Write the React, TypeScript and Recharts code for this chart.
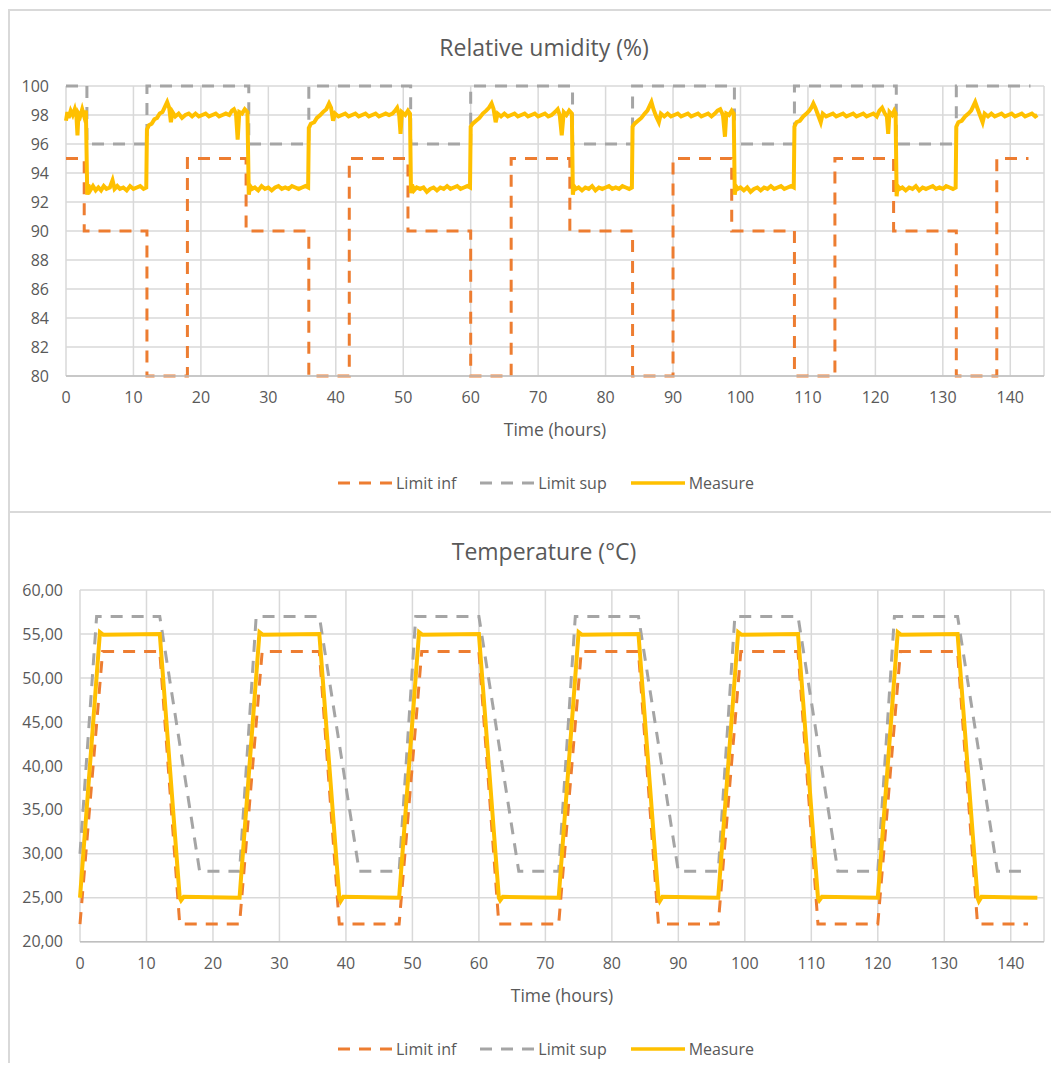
import { LineChart, Line, XAxis, YAxis, CartesianGrid } from "recharts";

const xTicks = [0, 10, 20, 30, 40, 50, 60, 70, 80, 90, 100, 110, 120, 130, 140];
const humTicks = [80, 82, 84, 86, 88, 90, 92, 94, 96, 98, 100];
const tempTicks = [20, 25, 30, 35, 40, 45, 50, 55, 60];

const seriesNames = ["Limit inf", "Limit sup", "Measure"];

// relative humidity, [time, value]
const humLimitInf = [
    [0, 95], [2.7, 95], [2.7, 90], [12, 90], [12, 80], [18, 80], [18, 95], [26.7, 95], [26.7, 90],
    [36, 90], [36, 80], [42, 80], [42, 95], [50.7, 95], [50.7, 90], [60, 90], [60, 80], [66, 80],
    [66, 95], [74.7, 95], [74.7, 90], [84, 90], [84, 80], [90, 80], [90, 95], [98.7, 95], [98.7, 90],
    [108, 90], [108, 80], [114, 80], [114, 95], [122.7, 95], [122.7, 90], [132, 90], [132, 80],
    [138, 80], [138, 95], [142.7, 95],
];

const humLimitSup = [
    [0, 100], [3.1, 100], [3.1, 96], [12, 96], [12, 100], [27.1, 100], [27.1, 96], [36, 96], [36, 100],
    [51.1, 100], [51.1, 96], [60, 96], [60, 100], [75.1, 100], [75.1, 96], [84, 96], [84, 100],
    [99.1, 100], [99.1, 96], [108, 96], [108, 100], [123.1, 100], [123.1, 96], [132, 96], [132, 100],
    [143, 100],
];

const humMeasure = [
    [0, 97.6], [0.2, 98.2], [0.4, 97.8], [0.7, 98.3], [1.0, 98.0], [1.3, 98.4], [1.55, 97.9], [1.7, 96.6],
    [1.85, 98.1], [2.1, 97.9], [2.4, 98.4], [2.7, 97.9], [2.95, 98.3],
    [3.15, 92.5], [3.3, 93.2], [3.6, 92.8], [4.0, 93.1], [4.4, 92.8], [4.8, 93.0], [5.2, 92.8], [5.6, 93.1],
    [6.0, 92.9], [6.5, 93.0], [6.9, 93.5], [7.2, 92.9], [7.6, 93.1], [8.0, 92.9], [8.5, 93.0], [9.0, 92.8],
    [9.5, 93.1], [10.0, 92.9], [10.5, 93.0], [11.0, 93.1], [11.5, 92.9], [11.9, 93.0],
    [12.0, 97.0], [12.3, 97.3], [12.7, 97.4], [13.1, 97.7], [13.5, 97.8], [13.9, 98.1], [14.3, 98.2],
    [14.7, 98.6], [15.0, 98.9], [15.3, 98.5], [15.55, 97.5], [15.8, 98.2], [16.2, 97.9], [16.7, 98.1],
    [17.2, 97.8], [17.7, 98.0], [18.2, 98.1], [18.7, 97.9], [19.2, 98.1], [19.7, 97.9], [20.2, 98.0],
    [20.7, 98.1], [21.2, 97.9], [21.7, 98.0], [22.2, 98.1], [22.7, 97.9], [23.2, 98.0], [23.7, 98.1],
    [24.2, 98.0], [24.6, 98.3], [24.9, 98.4], [25.2, 98.1], [25.45, 96.3], [25.7, 98.2], [26.1, 98.1],
    [26.5, 98.4], [26.9, 98.2],
    [27.1, 92.5], [27.3, 93.1], [27.6, 92.9], [28.0, 93.0], [28.5, 92.8], [29, 93.1], [29.5, 92.9], [30, 93.0],
    [30.5, 92.8], [31, 93.0], [31.5, 93.1], [32, 92.9], [32.5, 93.0], [33, 92.9], [33.5, 93.1], [34, 93.0],
    [34.5, 92.9], [35, 93.0], [35.5, 93.1], [35.9, 93.0],
    [36.0, 97.1], [36.3, 97.4], [36.8, 97.5], [37.2, 97.8], [37.7, 98.0], [38.1, 98.2], [38.6, 98.4],
    [39.0, 98.8], [39.3, 98.5], [39.6, 97.6], [39.9, 98.1], [40.4, 97.9], [40.9, 98.0], [41.4, 98.1],
    [41.9, 97.9], [42.4, 98.0], [42.9, 98.1], [43.4, 97.9], [43.9, 98.0], [44.4, 98.1], [44.9, 97.9],
    [45.4, 98.0], [45.9, 98.1], [46.4, 97.9], [46.9, 98.0], [47.4, 98.1], [47.9, 98.0], [48.4, 98.1],
    [48.8, 98.3], [49.1, 98.5], [49.4, 98.0], [49.6, 96.7], [49.8, 98.2], [50.3, 98.0], [50.7, 98.3],
    [51.0, 98.1],
    [51.15, 92.6], [51.3, 93.2], [51.6, 92.8], [52, 93.0], [52.5, 92.9], [53, 93.0], [53.5, 92.7], [54, 92.9],
    [54.5, 93.0], [55, 92.8], [55.5, 93.0], [56, 92.9], [56.5, 93.1], [57, 92.9], [57.5, 93.0], [58, 93.1],
    [58.5, 92.9], [59, 93.0], [59.5, 93.1], [59.9, 93.0],
    [60.0, 97.2], [60.3, 97.4], [60.8, 97.6], [61.3, 97.8], [61.8, 98.1], [62.3, 98.3], [62.7, 98.5],
    [63.1, 98.8], [63.4, 98.4], [63.7, 97.5], [64.0, 98.1], [64.5, 97.9], [65, 98.1], [65.5, 97.9],
    [66, 98.0], [66.5, 98.1], [67, 97.9], [67.5, 98.0], [68, 98.1], [68.5, 97.9], [69, 98.0], [69.5, 98.1],
    [70, 97.9], [70.5, 98.0], [71, 98.1], [71.5, 97.9], [72, 98.0], [72.5, 98.2], [72.9, 98.4], [73.2, 98.0],
    [73.5, 96.6], [73.8, 98.2], [74.2, 98.0], [74.6, 98.3], [75.0, 98.1],
    [75.15, 92.5], [75.3, 93.1], [75.6, 92.9], [76, 93.0], [76.5, 92.8], [77, 93.0], [77.5, 92.9], [78, 93.1],
    [78.5, 92.8], [79, 93.0], [79.5, 92.9], [80, 93.0], [80.5, 93.1], [81, 92.9], [81.5, 93.0], [82, 92.9],
    [82.5, 93.1], [83, 93.0], [83.5, 92.9], [83.9, 93.0],
    [84.0, 97.2], [84.3, 97.4], [84.8, 97.6], [85.3, 97.8], [85.8, 98.1], [86.2, 98.3], [86.5, 98.6],
    [86.8, 98.9], [87.1, 98.4], [87.5, 97.9], [87.9, 97.5], [88.2, 98.1], [88.7, 97.9], [89.2, 98.1],
    [89.7, 97.9], [90.2, 98.0], [90.7, 98.1], [91.2, 97.9], [91.7, 98.0], [92.2, 98.1], [92.7, 97.9],
    [93.2, 98.0], [93.7, 98.1], [94.2, 97.9], [94.7, 98.0], [95.2, 98.1], [95.7, 97.9], [96.2, 98.1],
    [96.6, 98.3], [97.0, 98.4], [97.4, 98.0], [97.7, 96.5], [97.9, 98.1], [98.3, 98.0], [98.7, 98.3],
    [99.0, 98.1],
    [99.15, 92.5], [99.3, 93.1], [99.6, 92.9], [100, 93.0], [100.5, 92.8], [101, 93.0], [101.5, 92.7],
    [102, 92.9], [102.5, 93.0], [103, 92.8], [103.5, 93.0], [104, 92.9], [104.5, 93.1], [105, 92.9],
    [105.5, 93.0], [106, 93.1], [106.5, 92.9], [107, 93.0], [107.5, 93.1], [107.9, 93.0],
    [108.0, 97.2], [108.3, 97.5], [108.8, 97.6], [109.3, 97.9], [109.8, 98.1], [110.2, 98.3], [110.5, 98.5],
    [110.8, 98.8], [111.1, 98.5], [111.5, 98.0], [111.9, 97.5], [112.2, 98.1], [112.7, 97.9], [113.2, 98.0],
    [113.7, 98.1], [114.2, 97.9], [114.7, 98.0], [115.2, 98.1], [115.7, 97.9], [116.2, 98.0], [116.7, 98.1],
    [117.2, 97.9], [117.7, 98.0], [118.2, 98.1], [118.7, 97.9], [119.2, 98.0], [119.7, 98.1], [120.2, 97.9],
    [120.6, 98.3], [121.0, 98.5], [121.4, 98.1], [121.7, 97.9], [121.9, 96.7], [122.1, 98.2], [122.5, 98.0],
    [122.8, 98.3], [123.0, 98.1],
    [123.15, 92.4], [123.3, 93.1], [123.6, 92.9], [124, 93.0], [124.5, 92.8], [125, 93.0], [125.5, 92.9],
    [126, 93.1], [126.5, 92.8], [127, 93.0], [127.5, 92.9], [128, 93.0], [128.5, 93.1], [129, 92.9],
    [129.5, 93.0], [130, 92.9], [130.5, 93.1], [131, 93.0], [131.5, 92.9], [131.9, 93.0],
    [132.0, 97.2], [132.3, 97.5], [132.8, 97.6], [133.3, 97.9], [133.8, 98.1], [134.2, 98.3], [134.5, 98.6],
    [134.8, 98.9], [135.1, 98.5], [135.5, 98.0], [135.9, 97.5], [136.2, 98.1], [136.7, 97.9], [137.2, 98.1],
    [137.7, 97.9], [138.2, 98.0], [138.7, 98.1], [139.2, 97.9], [139.7, 98.0], [140.2, 98.1], [140.7, 97.9],
    [141.2, 98.0], [141.7, 98.1], [142.2, 97.9], [142.7, 98.0], [143.2, 98.1], [143.7, 97.9], [144.0, 98.0],
];

// temperature, [time, value]
const tempLimitInf = [
    [0, 22], [3.4, 53], [12, 53], [15, 22], [24, 22], [27.4, 53], [36, 53], [39, 22], [48, 22],
    [51.4, 53], [60, 53], [63, 22], [72, 22], [75.4, 53], [84, 53], [87, 22], [96, 22], [99.4, 53],
    [108, 53], [111, 22], [120, 22], [123.4, 53], [132, 53], [135, 22], [142.6, 22],
];

const tempLimitSup = [
    [0, 30], [2.5, 57], [12, 57], [18, 28], [24, 28], [26.5, 57], [36, 57], [42, 28], [48, 28],
    [50.5, 57], [60, 57], [66, 28], [72, 28], [74.5, 57], [84, 57], [90, 28], [96, 28], [98.5, 57],
    [108, 57], [114, 28], [120, 28], [122.5, 57], [132, 57], [138, 28], [142.8, 28],
];

const tempMeasure = [
    [0, 25], [3, 55.2], [3.5, 54.9], [12, 55], [15, 25], [15.2, 24.7], [15.6, 25.1], [24, 25],
    [27, 55.2], [27.5, 54.9], [36, 55], [39, 25], [39.2, 24.6], [39.6, 25.1], [48, 25],
    [51, 55.2], [51.5, 54.9], [60, 55], [63, 25], [63.2, 24.7], [63.6, 25.1], [72, 25],
    [75, 55.2], [75.5, 54.9], [84, 55], [87, 25], [87.2, 24.6], [87.6, 25.1], [96, 25],
    [99, 55.2], [99.5, 54.9], [108, 55], [111, 25], [111.2, 24.7], [111.6, 25.1], [120, 25],
    [123, 55.2], [123.5, 54.9], [132, 55], [135, 25], [135.2, 24.6], [135.6, 25.1], [144, 25],
];

const COLORS = ["#ED7D31", "#A5A5A5", "#FFC000"];
const FONT = "'Open Sans', sans-serif";
const TEXT = "#595959";
const GRID = "#D9D9D9";

const toRows = (pts: number[][]) => pts.map(([t, v]) => ({ t, v }));

interface PanelProps {
    top: number;
    height: number;
    title: string;
    plotLeft: number;
    plotTop: number;
    plotBottom: number;
    yTicks: number[];
    series: number[][][];
    format?: (v: number) => string;
}

function Legend() {
    return (
        <div style={{ display: "flex", alignItems: "center", fontSize: 16, color: TEXT }}>
            {seriesNames.map((name, i) => (
                <div key={name} style={{ display: "flex", alignItems: "center", marginRight: i < 2 ? 24 : 0 }}>
                    <svg width={54} height={6} style={{ marginRight: 4 }}>
                        <line x1={0} y1={3} x2={54} y2={3} stroke={COLORS[i]} strokeWidth={i === 2 ? 3.5 : 3}
                            strokeDasharray={i === 2 ? undefined : "12 9"} />
                    </svg>
                    <span>{name}</span>
                </div>
            ))}
        </div>
    );
}

function Panel({ top, height, title, plotLeft, plotTop, plotBottom, yTicks, series, format }: PanelProps) {
    const width = 1051;
    const plotRight = 1036;
    const yWidth = 50;
    const plotCenter = (plotLeft + plotRight) / 2;
    return (
        <div style={{ position: "absolute", left: 0, top, width, height }}>
            <div style={{ position: "absolute", left: 536 - 300, width: 600, top: 23, textAlign: "center", fontSize: 23, color: TEXT }}>
                {title}
            </div>
            <LineChart width={width} height={height}
                margin={{ top: plotTop, right: width - plotRight, left: plotLeft - yWidth, bottom: height - plotBottom - 30 }}>
                <CartesianGrid stroke={GRID} strokeWidth={1.5} />
                <XAxis dataKey="t" type="number" domain={[0, 145]} ticks={xTicks} allowDuplicatedCategory={false}
                    tickLine={false} axisLine={{ stroke: "#BFBFBF", strokeWidth: 1.5 }}
                    tickMargin={10} tick={{ fill: TEXT, fontSize: 16, fontFamily: FONT }} />
                <YAxis type="number" domain={[yTicks[0], yTicks[yTicks.length - 1]]} ticks={yTicks} width={yWidth}
                    tickLine={false} axisLine={false} tickMargin={11} tickFormatter={format}
                    tick={{ fill: TEXT, fontSize: 16, fontFamily: FONT }} />
                {series.map((pts, i) => (
                    <Line key={seriesNames[i]} name={seriesNames[i]} data={toRows(pts)} dataKey="v" type="linear"
                        stroke={COLORS[i]} strokeWidth={i === 2 ? 4 : 3} strokeDasharray={i === 2 ? undefined : "12 9"}
                        dot={false} activeDot={false} isAnimationActive={false} />
                ))}
            </LineChart>
            <div style={{ position: "absolute", left: plotCenter - 150, width: 300, top: plotBottom + 41, textAlign: "center", fontSize: 17.5, color: TEXT }}>
                Time (hours)
            </div>
            <div style={{ position: "absolute", left: 330, top: plotBottom + 96 }}>
                <Legend />
            </div>
        </div>
    );
}

export default function App() {
    return (
        <div style={{ position: "relative", width: 1051, height: 1055, overflow: "hidden", fontFamily: FONT, background: "#fff" }}>
            <div style={{ position: "absolute", left: 0, top: 1, width: 1060, height: 2, background: GRID }} />
            <div style={{ position: "absolute", left: 0, top: 1, width: 2, height: 1060, background: GRID }} />
            <div style={{ position: "absolute", left: 0, top: 503, width: 1060, height: 2, background: GRID }} />
            <Panel top={0} height={500} title="Relative umidity (%)" plotLeft={58} plotTop={78} plotBottom={368}
                yTicks={humTicks} series={[humLimitInf, humLimitSup, humMeasure]} />
            <Panel top={504} height={540} title="Temperature (°C)" plotLeft={72} plotTop={78} plotBottom={429.7}
                yTicks={tempTicks} series={[tempLimitInf, tempLimitSup, tempMeasure]}
                format={(v: number) => v.toFixed(2).replace(".", ",")} />
        </div>
    );
}
